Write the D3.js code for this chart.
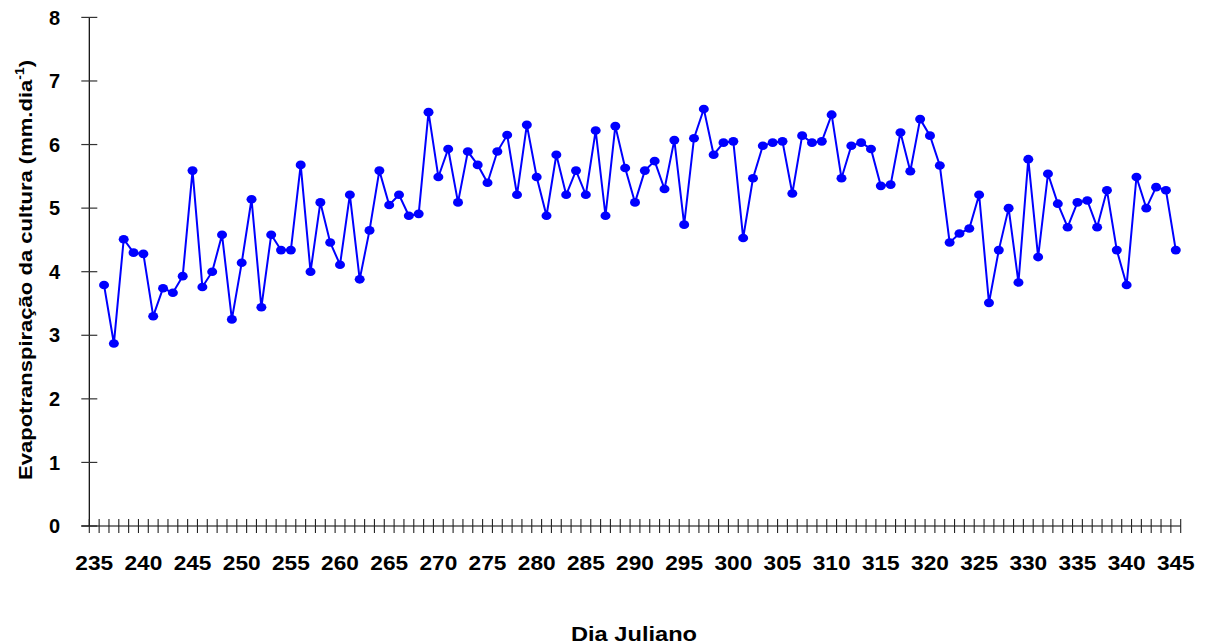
<!DOCTYPE html>
<html><head><meta charset="utf-8">
<script src="https://cdn.jsdelivr.net/npm/d3@7"></script>
<style>
html,body{margin:0;padding:0;background:#fff;}
svg{display:block;}
text{font-family:"Liberation Sans",Arial,sans-serif;font-weight:bold;fill:#000;}
</style></head>
<body>
<svg id="chart" width="1205" height="644"></svg>
<script>
// Julian day categories shown on the axis
const categories = [235,236,237,238,239,240,241,242,243,244,245,246,247,248,249,250,251,252,253,254,255,256,257,258,259,260,261,262,263,264,265,266,267,268,269,270,271,272,273,274,275,276,277,278,279,280,281,282,283,284,285,286,287,288,289,290,291,292,293,294,295,296,297,298,299,300,301,302,303,304,305,306,307,308,309,310,311,312,313,314,315,316,317,318,319,320,321,322,323,324,325,326,327,328,329,330,331,332,333,334,335,336,337,338,339,340,341,342,343,344,345];
// Crop evapotranspiration (mm/day), aligned with categories (first category empty)
const etValues = [null,
3.79,2.87,4.51,4.30,4.28,3.30,3.74,3.67,3.93,5.59,
3.76,4.00,4.58,3.25,4.14,5.14,3.44,4.58,4.34,4.34,
5.68,4.00,5.09,4.46,4.11,5.21,3.88,4.65,5.59,5.05,
5.21,4.88,4.91,6.51,5.49,5.93,5.09,5.89,5.68,5.40,
5.89,6.15,5.21,6.31,5.49,4.88,5.84,5.21,5.59,5.21,
6.22,4.88,6.29,5.63,5.09,5.59,5.74,5.30,6.07,4.74,
6.10,6.56,5.84,6.03,6.05,4.53,5.47,5.98,6.03,6.05,
5.23,6.14,6.03,6.05,6.47,5.47,5.98,6.03,5.93,5.35,
5.37,6.19,5.58,6.40,6.14,5.67,4.46,4.60,4.68,5.21,
3.51,4.34,5.00,3.83,5.77,4.23,5.54,5.07,4.70,5.09,
5.12,4.70,5.28,4.34,3.79,5.49,5.00,5.33,5.28,4.34];
const xTickLabels = [235,240,245,250,255,260,265,270,275,280,285,290,295,300,305,310,315,320,325,330,335,340,345];
const yTickValues = [0,1,2,3,4,5,6,7,8];
const xTitle = "Dia Juliano";
const yTitleMain = "Evapotranspiração da cultura (mm.dia";
const yTitleSup = "-1";
const yTitleEnd = ")";

const svg = d3.select("#chart");
const x = d3.scaleBand().domain(categories).range([89.3, 1180.7]).paddingInner(0).paddingOuter(0);
const y = d3.scaleLinear().domain([0, 8]).range([526, 17.4]);
const bw = x.bandwidth();
const cx = d => x(d) + bw / 2;

const axisG = svg.append("g");
// y axis line
axisG.append("line").attr("x1", x(categories[0])).attr("x2", x(categories[0]))
  .attr("y1", y(8)).attr("y2", y(0)).attr("stroke", "#000").attr("stroke-width", 1.2);
// y ticks (cross)
axisG.selectAll(".yt").data(yTickValues).enter().append("line")
  .attr("x1", x(categories[0]) - 8).attr("x2", x(categories[0]) + 8)
  .attr("y1", d => y(d)).attr("y2", d => y(d)).attr("stroke", "#333").attr("stroke-width", 1.2);
// y labels
axisG.selectAll(".yl").data(yTickValues).enter().append("text")
  .attr("x", 60).attr("y", d => y(d)).attr("dy", "0.36em")
  .attr("text-anchor", "end").style("font-size", "20px").text(d => d);
// x axis line
const xEnd = x(categories[categories.length - 1]) + bw;
axisG.append("line").attr("x1", x(categories[0]) - 8).attr("x2", xEnd)
  .attr("y1", y(0)).attr("y2", y(0)).attr("stroke", "#000").attr("stroke-width", 1.2);
// x ticks at band boundaries
const bounds = categories.map(c => x(c)).concat([xEnd]);
axisG.selectAll(".xt").data(bounds).enter().append("line")
  .attr("x1", d => d).attr("x2", d => d)
  .attr("y1", y(0) - 7).attr("y2", y(0) + 7).attr("stroke", "#222").attr("stroke-width", 1.1);
// x labels
axisG.selectAll(".xl").data(xTickLabels).enter().append("text")
  .attr("transform", d => `translate(${cx(d)},570) scale(1.08,1)`)
  .attr("text-anchor", "middle").style("font-size", "21px").text(d => d);

// titles
svg.append("text").attr("x", 634).attr("y", 641).attr("text-anchor", "middle")
  .style("font-size", "19.5px").attr("textLength", 126).attr("lengthAdjust", "spacingAndGlyphs")
  .text(xTitle);
const yt = svg.append("text").attr("transform", "translate(32,270) rotate(-90)")
  .attr("text-anchor", "middle").style("font-size", "19px")
  .attr("textLength", 420).attr("lengthAdjust", "spacingAndGlyphs");
yt.append("tspan").text(yTitleMain);
yt.append("tspan").attr("dy", -8).style("font-size", "12px").text(yTitleSup);
yt.append("tspan").attr("dy", 8).text(yTitleEnd);

// series
const pts = categories.map((c, i) => ({c, v: etValues[i]})).filter(d => d.v !== null);
const line = d3.line().x(d => cx(d.c)).y(d => y(d.v));
svg.append("path").datum(pts).attr("d", line).attr("fill", "none")
  .attr("stroke", "#0000FF").attr("stroke-width", 2);
svg.selectAll(".pt").data(pts).enter().append("ellipse")
  .attr("cx", d => cx(d.c)).attr("cy", d => y(d.v)).attr("rx", 5).attr("ry", 4.3)
  .attr("fill", "#0000FF");
</script>
</body></html>
